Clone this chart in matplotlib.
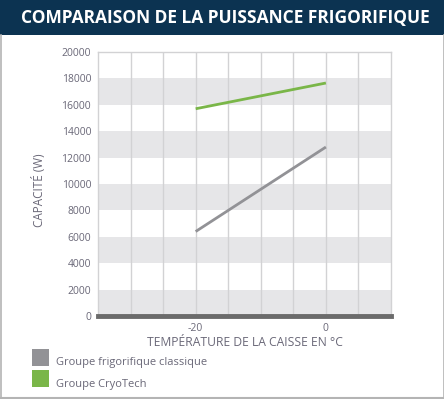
import matplotlib
matplotlib.use("Agg")
import matplotlib.pyplot as plt
from matplotlib.patches import Rectangle

plt.rcParams['font.family'] = ['Open Sans', 'DejaVu Sans']

title = "COMPARAISON DE LA PUISSANCE FRIGORIFIQUE"
temps = [-20, 0]
classique = [6400, 12800]
cryotech = [15700, 17650]
series_names = ["Groupe frigorifique classique", "Groupe CryoTech"]
series_colors = ["#929296", "#7ab648"]
yticks = list(range(0, 20001, 2000))
xticks = [-20, 0]
ylabel = "CAPACITÉ (W)"
xlabel = "TEMPÉRATURE DE LA CAISSE EN °C"

W, H = 444, 399
fig = plt.figure(figsize=(W / 100, H / 100), dpi=100)
fig.patch.set_facecolor("white")

# title bar
fig.patches.append(Rectangle((0, 1 - 35 / H), 1, 35 / H, transform=fig.transFigure,
                             facecolor="#0c3351", edgecolor="none", zorder=0))
fig.text(225 / W, 1 - 18 / H, title, color="white", fontsize=12.5, fontweight="bold",
         ha="center", va="center")

# frame border
border = "#b4b4b4"
fig.add_artist(plt.Line2D([0.5 / W, 0.5 / W], [0, 1 - 35 / H], transform=fig.transFigure, color=border, lw=1.2))
fig.add_artist(plt.Line2D([1 - 0.5 / W, 1 - 0.5 / W], [0, 1 - 35 / H], transform=fig.transFigure, color=border, lw=1.2))
fig.add_artist(plt.Line2D([0, 1], [0.8 / H, 0.8 / H], transform=fig.transFigure, color=border, lw=1.5))

ax = fig.add_axes([98 / W, 1 - 316 / H, (391 - 98) / W, (316 - 52) / H])
ax.set_xlim(-35, 10)
ax.set_ylim(0, 20000)

# bands
for y0 in range(0, 20000, 4000):
    ax.axhspan(y0, y0 + 2000, color="#e6e6e8", lw=0, zorder=0)
# vertical gridlines
for xv in range(-30, 10, 5):
    ax.axvline(xv, color="#d2d2d4", lw=1, zorder=1)

ax.plot(temps, classique, color=series_colors[0], lw=2, zorder=3, solid_capstyle="butt")
ax.plot(temps, cryotech, color=series_colors[1], lw=2, zorder=3, solid_capstyle="butt")

for s in ["left", "right", "top"]:
    ax.spines[s].set_color("#d2d2d4")
    ax.spines[s].set_linewidth(1)
ax.spines["bottom"].set_color("#6b6b6b")
ax.spines["bottom"].set_linewidth(3.5)
ax.spines["bottom"].set_zorder(4)

txtc = "#6a6878"
ax.set_yticks(yticks)
ax.set_yticklabels([str(v) for v in yticks], fontsize=7.5, color=txtc)
ax.set_xticks(xticks)
ax.set_xticklabels([str(v) for v in xticks], fontsize=7.5, color=txtc)
ax.tick_params(axis="both", length=0, pad=5)
ax.tick_params(axis="x", pad=5)

fig.text(39 / W, 1 - 190 / H, ylabel, rotation=90, color=txtc, fontsize=8.5, ha="center", va="center")
fig.text(245 / W, 1 - 343 / H, xlabel, color=txtc, fontsize=8.7, ha="center", va="center")

# legend
text_y = [362, 385]
for i, (name, col) in enumerate(zip(series_names, series_colors)):
    ytop = 349 + i * 21
    fig.patches.append(Rectangle((32 / W, 1 - (ytop + 17) / H), 17 / W, 17 / H,
                                 transform=fig.transFigure, facecolor=col, edgecolor="none"))
    fig.text(56 / W, 1 - text_y[i] / H, name, color=txtc, fontsize=8.0, ha="left", va="center")

fig.savefig("out.png", dpi=100)
